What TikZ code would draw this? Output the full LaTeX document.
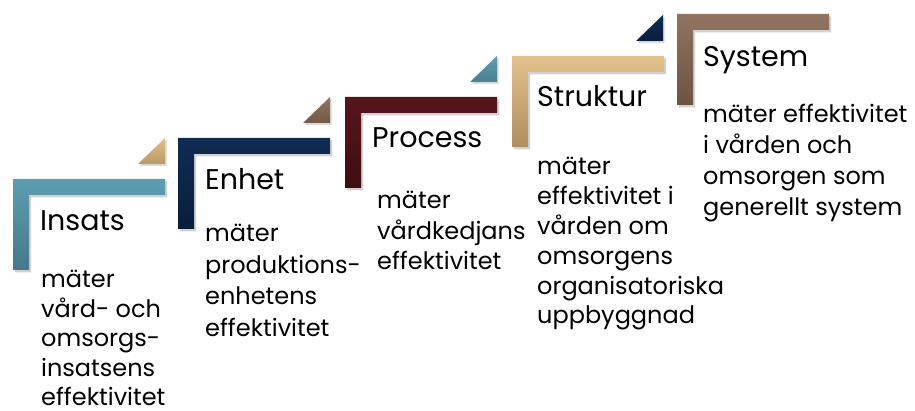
\documentclass[tikz,border=0pt]{standalone}
\usepackage{fontspec}
\setmainfont{Poppins}
\definecolor{tealT}{HTML}{5D9DB2}
\definecolor{tealB}{HTML}{46788A}
\definecolor{navyT}{HTML}{0F2C54}
\definecolor{navyB}{HTML}{0A1E3C}
\definecolor{maroonT}{HTML}{56151B}
\definecolor{maroonB}{HTML}{3E0E12}
\definecolor{tanT}{HTML}{E3C18C}
\definecolor{tanB}{HTML}{AE8E5E}
\definecolor{brownT}{HTML}{917360}
\definecolor{brownB}{HTML}{6C5444}
\tikzset{
  titletext/.style={anchor=base west, inner sep=0pt, font=\fontsize{28.5}{34}\selectfont},
  bodytext/.style={anchor=base west, inner sep=0pt},
}
\newcommand\stairL[4]{%
  \fill[black,opacity=.18] (#1+2,#2+2.5) -- ++(152,0) -- ++(0,16) -- ++(-136,0) -- ++(0,75) -- ++(-16,0) -- cycle;
  \shade[top color=#3,bottom color=#4] (#1,#2) -- ++(152,0) -- ++(0,16) -- ++(-136,0) -- ++(0,75) -- ++(-16,0) -- cycle;
}
\newcommand\stairT[4]{%
  \fill[black,opacity=.15] (#1+1.5,#2-39) -- (#1+1.5,#2-13) -- (#1-25.5,#2-13) -- cycle;
  \shade[top color=#3,bottom color=#4] (#1,#2-41) -- (#1,#2-15) -- (#1-27,#2-15) -- cycle;
}
\newcommand\bodyfont[1]{\fontsize{24}{#1}\selectfont}
\begin{document}
\begin{tikzpicture}[x=1pt,y=-1pt]
\useasboundingbox (0,0) rectangle (915,411);
% L-shaped steps
\stairL{13}{179}{tealT}{tealB}
\stairL{178}{138}{navyT}{navyB}
\stairL{345}{97}{maroonT}{maroonB}
\stairL{512}{56}{tanT}{tanB}
\stairL{677}{14}{brownT}{brownB}
% triangles (right x, bar top y)
\stairT{165}{179}{tanT}{tanB!80!tanT}
\stairT{330}{138}{brownT}{brownB!80!brownT}
\stairT{497}{97}{tealT}{tealB!80!tealT}
\stairT{663}{56}{navyT}{navyB}
% titles
\node[titletext] (t1) at (40,231) {Insats};
\node[titletext] (t2) at (205,190) {Enhet};
\node[titletext] (t3) at (372,148) {Process};
\node[titletext] (t4) at (537,107) {Struktur};
\node[titletext] (t5) at (703,67) {System};
% bodies
\node[bodytext] (b1) at (41,288) {\vtop{\bodyfont{29.4}\hbox{mäter}\hbox{vård- och}\hbox{omsorgs-}\hbox{insatsens}\hbox{effektivitet}}};
\node[bodytext] (b2) at (205,242) {\vtop{\bodyfont{31.5}\hbox{mäter}\hbox{produktions-}\hbox{enhetens}\hbox{effektivitet}}};
\node[bodytext] (b3) at (377,209) {\vtop{\bodyfont{30.5}\hbox{mäter}\hbox{vårdkedjans}\hbox{effektivitet}}};
\node[bodytext] (b4) at (537,175) {\vtop{\bodyfont{29.8}\hbox{mäter}\hbox{effektivitet i}\hbox{vården om}\hbox{omsorgens}\hbox{organisatoriska}\hbox{uppbyggnad}}};
\node[bodytext] (b5) at (703,123) {\vtop{\bodyfont{31}\hbox{mäter effektivitet}\hbox{i vården och}\hbox{omsorgen som}\hbox{generellt system}}};
\end{tikzpicture}
\end{document}
